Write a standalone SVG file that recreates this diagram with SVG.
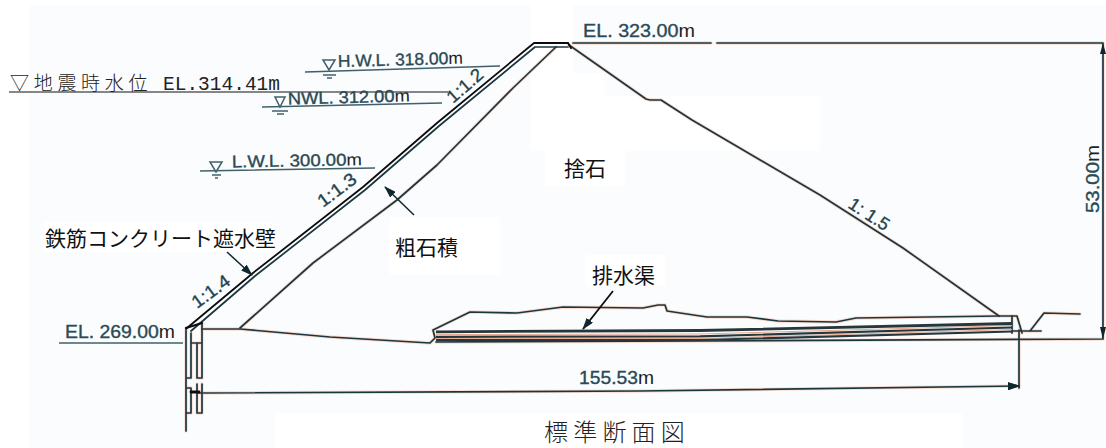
<svg xmlns="http://www.w3.org/2000/svg" width="1106" height="448" viewBox="0 0 1106 448">
<style>
.bg{fill:#fbfcfe}
.w{fill:#fff}
.geo{fill:none;stroke-linejoin:round;stroke-linecap:round}
.halo{stroke:#f8dcd0;stroke-width:3.4}
.ink{stroke:#1a363f;stroke-width:1.7}
.blk{fill:none;stroke:#0c0c0c;stroke-width:1.8;stroke-linecap:round;stroke-linejoin:round}
.lvl{fill:none;stroke:#41606a;stroke-width:1.5}
.lab{font-family:"Liberation Sans",Arial,sans-serif;fill:#2a4a54;font-size:18px;stroke:#2a4a54;stroke-width:.35}
.lab tspan{fill:#222;stroke:none}
.wl{font-size:17px}
.slope{fill:#24424c}
.jp{font-family:"Noto Sans CJK JP",sans-serif;fill:#111;font-size:21px}
.thin{font-family:"Noto Sans CJK JP",sans-serif;fill:#222;font-weight:300}
.mono{font-family:"Liberation Mono",monospace;fill:#222}
</style>
<defs>
<marker id="ah" markerWidth="12" markerHeight="8" refX="11" refY="4" orient="auto" markerUnits="userSpaceOnUse"><path d="M0 0L12 4L0 8Z" fill="#10262e"/></marker>
<g id="geoLines">
<path d="M556 47L513 88L437 165L397 200L313 263L240 328"/>
<path d="M202 329L240 329L330 337L430 343L435 338L433 330L470 312L517 313L563 307L643 308L658 305L665 305L667 311L707 317L747 317L778 321L836 322L856 318L999 316L1012 316"/>
<path d="M569 45L646 99L650 100L661 100L692 120L820 195L903 248L999 316"/>
<path d="M573 43L711 43M717 43L1103 43L1103 339M436 342L700 341L1103 339"/>
<path d="M1012 316L1017 316L1022 333M1012 316L1012 333M1012 331L1041 331M1030 331L1044 313L1080 314"/>
<path d="M1019 330L1019 388"/>
<path d="M199 393L640 391L1019 386" marker-end="url(#ah)"/>
<path d="M186 328L186 431M191 333L191 378L186 378M191 388L191 413L186 413M197 343L197 378L202 378L202 343M197 384L197 413L202 413L202 384M192 343L202 343M202 323L202 343M186 388L191 388"/>
</g>
</defs>
<rect width="1106" height="448" fill="#fff"/>
<g id="paper">
<rect class="bg" x="30" y="5" width="1076" height="408"/>
<rect class="bg" x="30" y="413" width="245" height="35"/>
<rect class="bg" x="962" y="413" width="144" height="35"/>
<rect class="w" x="530" y="0" width="43" height="73"/>
<rect class="w" x="530" y="73" width="74" height="23"/>
<rect class="w" x="530" y="96" width="290" height="55"/>
<rect class="w" x="545" y="151" width="80" height="35"/>
<rect class="w" x="390" y="217" width="110" height="58"/>
<rect class="w" x="585" y="255" width="80" height="30"/>
<rect class="w" x="44" y="222" width="230" height="30"/>
</g>
<g id="section">
<use href="#geoLines" class="geo halo"/>
<use href="#geoLines" class="geo ink"/>
<path class="blk" d="M568 43L534 43L437 123L363 187L253 273L187 328"/>
<path class="geo ink" d="M568 47L535 47L439 126L365 190L255 276L191 331"/>
<path class="blk" style="stroke-width:2" d="M568 43L571 48M186 328L202 323"/>
<path class="blk" style="stroke-width:2.8" d="M191 392L199 392"/>
<path d="M1103 43L1100 54L1106 54ZM1103 339L1100 327L1106 327Z" fill="#10262e"/>
</g>
<g id="drain-layers">
<path d="M436 334.6L700 334L1012 325.5M436 338.6L700 338.5L1012 329.5" fill="none" stroke="#e8a890" stroke-width="1"/>
<path d="M436 331.8L700 330.5L1012 323.5" fill="none" stroke="#26373c" stroke-width="2.8"/>
<path d="M436 336.8L700 336.3L1012 327.5M436 340.2L700 340L1012 331.5" fill="none" stroke="#26373c" stroke-width="2.2"/>
</g>
<g id="water-levels">
<path class="lvl" d="M305 72L500 66M262 107L442 103M200 171L375 168M59 343L183 343"/>
<path class="lvl" d="M323 60L335 60L329 70ZM275 97L285 97L280 107ZM210 162L222 162L216 172ZM323 75L336 75M327 78L332 78M272 111L288 111M277 114L284 114M212 175L221 175M215 178L218 178"/>
<path d="M9 92L448 92" fill="none" stroke="#111" stroke-width="1.2"/>
</g>
<g id="arrows">
<path d="M414 215L385 187" fill="none" stroke="#10262e" stroke-width="1.5" marker-end="url(#ah)"/>
<path d="M227 252L252 275" fill="none" stroke="#10262e" stroke-width="1.5" marker-end="url(#ah)"/>
<path d="M613 291L583 329" fill="none" stroke="#0c0c0c" stroke-width="1.8" marker-end="url(#ah)"/>
</g>
<g id="labels">
<text class="lab" x="583" y="37" textLength="112" lengthAdjust="spacingAndGlyphs">EL. 323.00<tspan>m</tspan></text>
<text class="lab wl" x="338" y="67" textLength="125" lengthAdjust="spacingAndGlyphs" transform="rotate(-1.5 338 67)">H.W.L. 318.00<tspan>m</tspan></text>
<text class="lab wl" x="288" y="104.500" textLength="122" lengthAdjust="spacingAndGlyphs" transform="rotate(-1.5 288 104.500)">NWL. 312.00<tspan>m</tspan></text>
<text class="lab wl" x="232" y="167.500" textLength="130" lengthAdjust="spacingAndGlyphs" transform="rotate(-1 232 167.500)">L.W.L. 300.00<tspan>m</tspan></text>
<text class="thin" x="10" y="90" font-size="19" letter-spacing="4.7">▽地震時水位</text>
<text class="mono" x="163" y="90" font-size="20" textLength="117" lengthAdjust="spacingAndGlyphs">EL.314.41m</text>
<text class="lab" x="65" y="338" textLength="110" lengthAdjust="spacingAndGlyphs">EL. 269.00<tspan>m</tspan></text>
<text class="lab" x="579" y="384" textLength="75" lengthAdjust="spacingAndGlyphs">155.53<tspan>m</tspan></text>
<text class="lab" transform="translate(1099 213) rotate(-90)" textLength="68" lengthAdjust="spacingAndGlyphs">53.00<tspan>m</tspan></text>
<text class="lab slope" transform="translate(453 104) rotate(-41)" textLength="42" lengthAdjust="spacingAndGlyphs">1:1.2</text>
<text class="lab slope" transform="translate(323 208) rotate(-37)" textLength="44" lengthAdjust="spacingAndGlyphs">1:1.3</text>
<text class="lab slope" transform="translate(197 309) rotate(-36)" textLength="43" lengthAdjust="spacingAndGlyphs">1:1.4</text>
<text class="lab slope" transform="translate(847 207) rotate(33)" textLength="45" lengthAdjust="spacingAndGlyphs">1: 1.5</text>
<text class="jp" x="564" y="176">捨石</text>
<text class="jp" x="395" y="255" font-size="22">粗石積</text>
<text class="jp" x="45" y="246" font-size="20.2">鉄筋コンクリート遮水壁</text>
<text class="jp" x="592" y="283" font-size="22">排水渠</text>
<text class="thin" x="544" y="441" font-size="24" letter-spacing="5.2">標準断面図</text>
</g>
</svg>
